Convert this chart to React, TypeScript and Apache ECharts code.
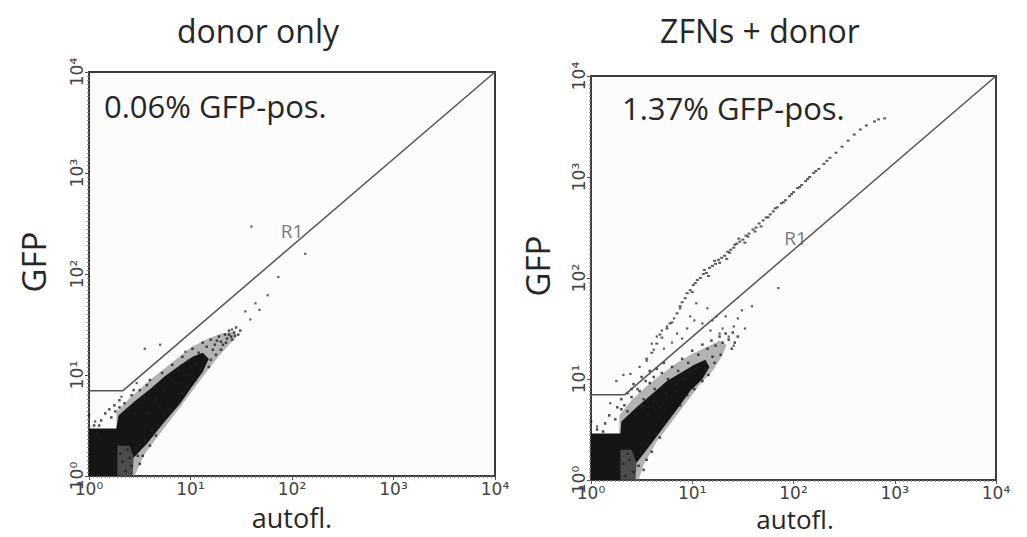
import React, { useEffect, useRef } from "react";
import * as echarts from "echarts";

// All coordinates are log10 units (decades): 0 -> 10^0, 4 -> 10^4
const decadeTicks = [0, 1, 2, 3, 4];
const decadeLabels = ["10⁰", "10¹", "10²", "10³", "10⁴"];
const panelTitles = ["donor only", "ZFNs + donor"];
const percentLabels = ["0.06% GFP-pos.", "1.37% GFP-pos."];
const gateName = "R1";
const gateLabelPos = [[2.0, 2.43], [2.02, 2.4]];

// gate R1 boundary (lower edge); the polygon closes along the frame
const gateLog = [[0, 0.845], [0.335, 0.845], [4, 4]];

// --- donor only ---
const donorCore = [
  [0, 0], [0, 0.47], [0.27, 0.47], [0.29, 0.6], [0.45, 0.74], [0.6, 0.86], [0.75, 0.99], [0.9, 1.1],
  [1.02, 1.18], [1.12, 1.22], [1.18, 1.16], [1.12, 1.03], [1.04, 0.92], [0.9, 0.72], [0.73, 0.52],
  [0.57, 0.32], [0.44, 0.18], [0.4, 0.3], [0.28, 0.3], [0.28, 0],
];
const donorPatch = [[0.27, 0], [0.27, 0.31], [0.42, 0.31], [0.44, 0.2], [0.43, 0]];
const donorHalo = [
  [0.27, 0], [0.27, 0.63], [0.4, 0.77], [0.6, 0.95], [0.8, 1.11], [1.0, 1.27], [1.15, 1.35], [1.3, 1.41],
  [1.43, 1.43], [1.45, 1.37], [1.36, 1.28], [1.25, 1.15], [1.12, 0.98], [1.0, 0.82], [0.85, 0.62],
  [0.7, 0.42], [0.55, 0.22], [0.47, 0.05], [0.45, 0],
];
const donorDots = [
  [0.35, 0.72], [0.42, 0.8], [0.38, 0.66], [0.5, 0.85], [0.55, 0.78], [0.6, 0.95], [0.65, 0.88], [0.72, 1.02],
  [0.78, 0.98], [0.82, 1.1], [0.88, 1.05], [0.92, 1.18], [0.98, 1.14], [1.02, 1.26], [1.08, 1.22], [1.12, 1.32],
  [1.16, 1.28], [1.2, 1.35], [1.24, 1.3], [1.28, 1.38], [1.3, 1.33], [1.34, 1.4], [1.36, 1.36], [1.38, 1.44],
  [1.4, 1.38], [1.43, 1.42], [1.45, 1.47], [1.47, 1.4], [1.3, 1.25], [1.25, 1.2], [1.2, 1.15], [1.18, 1.08],
  [1.1, 1.05], [1.05, 0.95], [0.98, 0.88], [0.92, 0.82], [0.88, 0.72], [0.8, 0.66], [0.75, 0.6], [0.68, 0.5],
  [0.62, 0.45], [0.55, 0.35], [0.5, 0.3], [0.48, 0.2], [0.42, 0.1], [0.4, 0.18], [0.36, 0.05], [0.33, 0.14],
  [0.31, 0.22], [0.38, 0.26], [0.16, 0.62], [0.22, 0.58], [0.12, 0.55], [0.25, 0.7], [0.3, 0.68], [0.2, 0.66],
  [0.45, 0.62], [0.52, 0.72], [0.58, 0.62], [0.65, 0.75], [0.7, 0.7], [0.74, 0.85], [0.86, 0.92], [0.94, 1.0],
  [1.0, 1.08], [1.06, 1.12], [1.14, 1.18], [1.22, 1.25], [1.32, 1.3], [0.0, 0.6], [0.05, 0.5], [0.1, 0.5],
  [0.08, 0.42], [0.5, 0.12], [0.53, 0.2], [0.46, 0.28], [0.6, 0.3], [0.66, 0.4], [1.26, 1.34], [1.35, 1.32],
  [1.41, 1.35], [1.38, 1.4], [1.44, 1.39], [1.49, 1.44], [0.3, 0.75], [0.26, 0.64], [0.44, 0.85], [0.57, 0.9],
];
const donorOutliers = [
  [1.6, 2.47], [2.13, 2.2], [1.865, 1.97], [1.76, 1.79], [1.64, 1.71], [1.68, 1.645], [1.54, 1.63],
  [1.59, 1.55], [1.41, 1.45], [0.55, 1.26], [0.7, 1.3], [0.95, 1.23], [0.47, 0.92], [0.32, 0.785], [0.06, 0.54],
];

// --- ZFNs + donor ---
const zfnCore = [
  [0, 0], [0, 0.46], [0.29, 0.46], [0.3, 0.58], [0.45, 0.72], [0.6, 0.85], [0.75, 0.98], [0.9, 1.07],
  [1.02, 1.14], [1.13, 1.19], [1.17, 1.12], [1.1, 1.0], [0.98, 0.88], [0.85, 0.7], [0.7, 0.5], [0.55, 0.3],
  [0.45, 0.17], [0.4, 0.3], [0.29, 0.3], [0.29, 0],
];
const zfnPatch = [[0.28, 0], [0.28, 0.31], [0.42, 0.31], [0.45, 0.18], [0.44, 0]];
const zfnHalo = [
  [0.28, 0], [0.28, 0.64], [0.4, 0.79], [0.55, 0.93], [0.7, 1.05], [0.85, 1.16], [1.0, 1.25], [1.15, 1.32],
  [1.27, 1.38], [1.34, 1.34], [1.29, 1.22], [1.2, 1.08], [1.08, 0.95], [0.95, 0.78], [0.8, 0.58], [0.65, 0.38],
  [0.52, 0.15], [0.47, 0],
];
const zfnDots = [
  [0.33, 0.74], [0.4, 0.82], [0.36, 0.68], [0.48, 0.88], [0.52, 0.8], [0.58, 0.96], [0.63, 0.9], [0.7, 1.06],
  [0.76, 1.0], [0.8, 1.12], [0.86, 1.08], [0.9, 1.2], [0.96, 1.16], [1.0, 1.28], [1.06, 1.24], [1.1, 1.34],
  [1.15, 1.3], [1.19, 1.38], [1.23, 1.33], [1.27, 1.42], [1.3, 1.36], [1.33, 1.45], [1.36, 1.39], [1.39, 1.3],
  [1.28, 1.24], [1.22, 1.16], [1.16, 1.04], [1.1, 0.98], [1.02, 0.9], [0.95, 0.84], [0.88, 0.74], [0.8, 0.66],
  [0.72, 0.56], [0.64, 0.46], [0.56, 0.36], [0.5, 0.26], [0.47, 0.14], [0.42, 0.08], [0.38, 0.2], [0.34, 0.04],
  [0.32, 0.16], [0.36, 0.26], [0.18, 0.64], [0.24, 0.6], [0.14, 0.56], [0.26, 0.72], [0.3, 0.7], [0.44, 0.64],
  [0.5, 0.74], [0.56, 0.64], [0.62, 0.78], [0.68, 0.72], [0.74, 0.86], [0.84, 0.94], [0.92, 1.0], [0.98, 1.06],
  [1.04, 1.1], [1.12, 1.16], [1.2, 1.22], [0.0, 0.58], [0.06, 0.5], [0.12, 0.48], [0.42, 0.95], [0.5, 1.02],
  [0.58, 1.08], [0.65, 1.1], [0.72, 1.16], [0.46, 0.9], [0.54, 0.98], [0.62, 1.02], [0.52, 0.1], [0.55, 0.2],
  [0.6, 0.28], [0.68, 0.42], [1.42, 1.36], [1.45, 1.42], [1.4, 1.46], [0.36, 0.86], [0.4, 0.9], [0.3, 0.8],
];
const zfnScatter = [
  [0.65, 1.42], [0.62, 1.29], [0.75, 1.52], [0.85, 1.45], [1.04, 1.75], [1.24, 1.62], [1.41, 1.52], [1.49, 1.68],
  [1.59, 1.72], [1.36, 1.42], [1.41, 1.33], [0.32, 1.04], [0.39, 1.05], [0.19, 0.76], [0.06, 0.53], [1.85, 1.9],
  [0.72, 1.3], [0.8, 1.36], [0.9, 1.4], [0.95, 1.5], [1.1, 1.55], [1.18, 1.48], [1.3, 1.5], [1.45, 1.6],
  [1.52, 1.5], [1.33, 1.62], [0.55, 1.18], [0.6, 1.35], [0.98, 1.62], [1.15, 1.7], [0.82, 1.6], [0.7, 1.48],
  [0.88, 1.7], [1.02, 1.58], [1.2, 1.58], [1.27, 1.45], [0.48, 1.12], [0.25, 0.98],
];
const zfnStreak = [
  [0.55, 1.2], [0.6, 1.26], [0.65, 1.35], [0.7, 1.41], [0.75, 1.5], [0.8, 1.56], [0.85, 1.65], [0.9, 1.76],
  [0.95, 1.85], [0.98, 1.88], [1.01, 1.93], [1.05, 1.98], [1.08, 2.0], [1.11, 2.04], [1.14, 2.05], [1.17, 2.1],
  [1.2, 2.12], [1.23, 2.14], [1.26, 2.18], [1.29, 2.2], [1.32, 2.22], [1.35, 2.26], [1.38, 2.28], [1.41, 2.3],
  [1.44, 2.34], [1.47, 2.36], [1.5, 2.38], [1.53, 2.42], [1.56, 2.44], [1.6, 2.48], [1.63, 2.5], [1.66, 2.54],
  [1.7, 2.57], [1.73, 2.6], [1.77, 2.63], [1.8, 2.66], [1.84, 2.7], [1.88, 2.74], [1.92, 2.77], [1.96, 2.81],
  [2.0, 2.85], [2.04, 2.89], [2.08, 2.92], [2.12, 2.96], [2.16, 3.0], [2.2, 3.04], [2.25, 3.08], [2.3, 3.13],
  [2.36, 3.19], [2.42, 3.24], [2.48, 3.3], [2.54, 3.36], [2.6, 3.42], [2.66, 3.47], [2.72, 3.51], [2.8, 3.55],
  [2.9, 3.58], [1.0, 1.86], [1.16, 2.02], [1.34, 2.19], [1.52, 2.35], [1.68, 2.51], [0.93, 1.8], [1.03, 1.95],
  [1.12, 2.08], [1.22, 2.17], [1.27, 2.15], [1.37, 2.25], [1.42, 2.33], [1.46, 2.39], [1.55, 2.41], [1.62, 2.46],
  [1.75, 2.6], [1.82, 2.69], [1.9, 2.75], [1.98, 2.83], [2.06, 2.9], [2.14, 2.98], [2.22, 3.06], [2.33, 3.16],
  [0.88, 1.72], [0.78, 1.55], [0.68, 1.44], [2.84, 3.57],
];

const FONT = "Open Sans";

function polygon(idx: number, pts: number[][], fill: string, opacity: number, z: number) {
  return {
    type: "custom",
    xAxisIndex: idx,
    yAxisIndex: idx,
    data: pts,
    encode: { x: 0, y: 1 },
    silent: true,
    z,
    renderItem: (params: any, api: any) => {
      if (params.dataIndex !== 0) return { type: "group", children: [] };
      return {
        type: "polygon",
        shape: { points: pts.map((p) => api.coord(p)) },
        style: { fill, opacity },
      };
    },
  };
}

function dots(idx: number, pts: number[][], color: string, size: number | number[]) {
  return {
    type: "scatter",
    xAxisIndex: idx,
    yAxisIndex: idx,
    data: pts,
    symbol: "rect",
    symbolSize: size,
    itemStyle: { color },
    silent: true,
    z: 4,
  };
}

function axis(idx: number, rotate: number) {
  return {
    type: "value",
    gridIndex: idx,
    min: decadeTicks[0],
    max: decadeTicks[decadeTicks.length - 1],
    interval: 1,
    axisLine: { show: false },
    axisTick: { show: true, length: 4, lineStyle: { color: "#555" } },
    minorTick: { show: true, splitNumber: 25, length: 2, lineStyle: { color: "#888" } },
    splitLine: { show: false },
    axisLabel: {
      margin: 4,
      rotate,
      fontSize: 17,
      fontFamily: "DejaVu Sans",
      color: "#444",
      formatter: (v: number) => decadeLabels[decadeTicks.indexOf(Math.round(v))] ?? "",
    },
  };
}

function panelSeries(idx: number, halo: number[][], patch: number[][], core: number[][], fringe: number[][], extra: number[][][]) {
  const s: any[] = [
    polygon(idx, halo, "#6a6a6a", 0.5, 2),
    polygon(idx, patch, "#3a3a3a", 0.85, 3),
    polygon(idx, core, "#151515", 1, 3),
    dots(idx, fringe, "#222", 2.5),
  ];
  extra.forEach((e, i) => s.push(dots(idx, e, "#333", i === 1 ? [3, 2] : 2.2)));
  s.push({
    type: "line",
    xAxisIndex: idx,
    yAxisIndex: idx,
    data: gateLog,
    symbol: "none",
    lineStyle: { color: "#555", width: 1.5 },
    silent: true,
    z: 5,
  });
  s.push({
    type: "scatter",
    xAxisIndex: idx,
    yAxisIndex: idx,
    data: [gateLabelPos[idx]],
    symbolSize: 0,
    silent: true,
    z: 6,
    label: {
      show: true,
      position: "inside",
      formatter: gateName,
      fontFamily: FONT,
      fontSize: 19,
      color: "#555",
    },
  });
  return s;
}

export default function App() {
  const ref = useRef<HTMLDivElement>(null);
  useEffect(() => {
    document.body.style.margin = "0";
    const chart = echarts.init(ref.current!, null, { renderer: "svg" });
    const grids = [
      { left: 89, top: 72, width: 406, height: 404 },
      { left: 591, top: 76, width: 405, height: 404 },
    ];
    const text = (t: string, x: number, y: number, size: number, rot = 0, align = "center") => ({
      type: "text",
      x,
      y,
      rotation: rot,
      style: {
        text: t,
        fontFamily: FONT,
        fontSize: size,
        lineHeight: size,
        fill: "#262626",
        align,
        verticalAlign: "middle",
      },
    });
    chart.setOption({
      animation: false,
      backgroundColor: "#ffffff",
      grid: grids.map((g) => ({ ...g, show: true, borderColor: "#3c3c3c", borderWidth: 2, backgroundColor: "#fcfcfc" })),
      xAxis: [axis(0, 0), axis(1, 0)],
      yAxis: [axis(0, 90), axis(1, 90)],
      series: [
        ...panelSeries(0, donorHalo, donorPatch, donorCore, donorDots, [donorOutliers]),
        ...panelSeries(1, zfnHalo, zfnPatch, zfnCore, zfnDots, [zfnScatter, zfnStreak]),
      ],
      graphic: [
        text(panelTitles[0], 258, 30, 32),
        text(panelTitles[1], 760, 30, 32),
        text(percentLabels[0], 104, 106, 31, 0, "left"),
        text(percentLabels[1], 622, 108, 31, 0, "left"),
        text("GFP", 33, 262, 33, Math.PI / 2),
        text("GFP", 537, 266, 33, Math.PI / 2),
        text("autofl.", 292, 517, 27),
        text("autofl.", 795, 519, 26),
      ],
    });
    return () => chart.dispose();
  }, []);
  return <div ref={ref} style={{ width: 1027, height: 537 }} />;
}
